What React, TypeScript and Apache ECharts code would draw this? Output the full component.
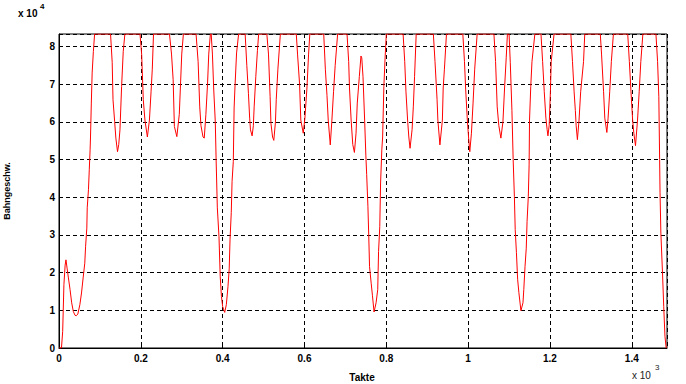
import React, { useEffect, useRef } from "react";
import * as echarts from "echarts";

// x: Takte (cycles), y: Bahngeschw. in units of 10^4
const takte: number[] = [
  0, 6, 9, 12, 15, 17, 20, 23, 27, 31, 35, 39, 42, 46, 51, 55, 59, 63, 65, 68, 69, 72, 74, 76, 77, 79, 81, 84, 87,
  126, 130, 132, 136, 139, 143, 146, 149, 153, 157, 161,
  198, 202, 206, 210, 216, 221, 225, 228, 231,
  270, 275, 279, 282, 288, 294, 297, 300, 304,
  335, 340, 344, 347, 352, 355, 359, 363, 366, 370, 372, 375, 378, 382, 384, 387, 391, 394, 397, 400, 405, 409, 413, 416, 418, 421, 423, 426, 428, 430, 434, 439,
  455, 459, 463, 466, 468, 472, 475, 477, 481, 485, 488,
  508, 512, 516, 518, 522, 525, 529, 531, 535, 541,
  580, 583, 588, 591, 597, 601, 606, 610, 613,
  647, 651, 655, 658, 663, 667, 671, 675, 681,
  704, 708, 710, 714, 718, 722, 726, 729, 734, 738, 740, 743, 747, 750, 752, 755, 757, 759, 763, 766, 770, 775, 779, 781, 784, 786, 789, 791, 794, 797, 800,
  841, 845, 848, 852, 855, 858, 863, 866, 869, 873,
  915, 919, 924, 926, 931, 937, 939, 942, 947,
  987, 991, 994, 998, 1001, 1004, 1008, 1012, 1016, 1022,
  1063, 1067, 1071, 1075, 1080, 1085, 1089, 1093, 1096, 1100, 1103, 1107, 1110, 1113, 1115, 1118, 1121, 1124, 1129, 1134, 1136, 1139, 1142, 1144, 1147, 1149, 1150, 1153, 1156, 1163,
  1178, 1182, 1186, 1190, 1193, 1195, 1198, 1201, 1203, 1210,
  1251, 1255, 1259, 1262, 1264, 1267, 1271, 1275, 1282, 1285,
  1323, 1326, 1331, 1334, 1339, 1342, 1346, 1350, 1355,
  1390, 1394, 1398, 1402, 1405, 1409, 1414, 1418, 1422, 1427,
  1459, 1463, 1466, 1468, 1469, 1471, 1475, 1478, 1481, 1484,
];

const speed: number[] = [
  0, 0, 0.44, 1.68, 2.2, 2.34, 2.1, 1.86, 1.55, 1.2, 0.97, 0.87, 0.855, 0.9, 1.15, 1.46, 1.86, 2.25, 2.7, 3.18, 3.72, 4.2, 4.73, 5.26, 5.6, 6.5, 7.3, 7.87, 8.3333,
  8.3333, 7.58, 6.59, 6.01, 5.57, 5.21, 5.4, 5.79, 6.94, 7.87, 8.3333,
  8.3333, 7.8, 6.59, 6.05, 5.6, 6.05, 6.8, 7.4, 8.3333,
  8.3333, 7.8, 7.12, 5.88, 5.61, 6.2, 7.0, 7.8, 8.3333,
  8.3333, 7.6, 6.4, 5.9, 5.6, 5.57, 6.2, 7.0, 7.8, 8.3333, 8.3333, 7.8, 6.9, 6.0, 5.0, 3.72, 2.96, 1.9, 1.37, 1.1, 0.945, 1.15, 1.63, 2.1, 2.87, 3.59, 4.42, 4.95, 6.37, 6.9, 7.83, 8.3333,
  8.3333, 7.5, 6.76, 6.1, 5.79, 5.63, 5.9, 6.4, 7.2, 7.9, 8.3333,
  8.3333, 7.8, 6.67, 5.96, 5.6, 5.51, 6.0, 6.6, 7.4, 8.3333,
  8.3333, 7.8, 7.0, 6.05, 5.7, 6.1, 6.9, 7.8, 8.3333,
  8.3333, 7.4, 6.7, 6.05, 5.39, 6.05, 6.8, 7.5, 8.3333,
  8.3333, 7.6, 6.9, 6.05, 5.4, 5.19, 5.7, 6.5, 7.2, 7.75, 7.7, 7.2, 6.05, 5.1, 4.6, 3.76, 3.0, 2.16, 1.72, 1.4, 0.955, 1.2, 1.55, 2.56, 3.22, 4.38, 5.26, 5.6, 6.94, 7.7, 8.3333,
  8.3333, 7.6, 6.8, 6.05, 5.6, 5.3, 5.8, 6.4, 7.2, 8.3333,
  8.3333, 7.6, 6.6, 6.05, 5.39, 6.05, 6.9, 7.4, 8.3333,
  8.3333, 7.6, 6.85, 6.05, 5.6, 5.21, 5.7, 6.5, 7.4, 8.3333,
  8.3333, 7.6, 6.4, 5.9, 5.57, 6.0, 6.9, 7.7, 8.3333, 8.3333, 7.57, 6.3, 5.0, 4.02, 3.14, 2.53, 1.81, 1.47, 0.99, 1.2, 1.55, 2.16, 2.65, 3.36, 4.02, 4.86, 6.05, 6.94, 7.6, 8.3333,
  8.3333, 7.6, 6.8, 6.1, 5.8, 5.63, 5.9, 6.8, 7.6, 8.3333,
  8.3333, 7.6, 6.8, 6.3, 5.9, 5.53, 6.05, 6.8, 7.6, 8.3333,
  8.3333, 7.8, 6.8, 6.1, 5.72, 6.1, 6.8, 7.6, 8.3333,
  8.3333, 7.6, 6.8, 6.05, 5.7, 5.37, 6.05, 6.8, 7.6, 8.3333,
  8.3333, 7.6, 6.67, 5.0, 4.12, 3.05, 2.0, 1.1, 0.31, 0,
];

const xMax = 1486;
const yMax = 8.3333;
const xLabel = "Takte";
const yLabel = "Bahngeschw.";

export default function App() {
  const ref = useRef<HTMLDivElement>(null);
  useEffect(() => {
    if (!ref.current) return;
    const chart = echarts.init(ref.current, null, { renderer: "svg" });
    const data = takte.map((t, i) => [t, speed[i]]);
    const font = "Liberation Sans, Arial, Helvetica, sans-serif";
    chart.setOption({
      animation: false,
      backgroundColor: "#ffffff",
      grid: {
        left: 59,
        right: 19,
        top: 34,
        bottom: 36,
        show: true,
        borderColor: "#000",
        borderWidth: 1,
        backgroundColor: "transparent",
      },
      xAxis: {
        type: "value",
        min: 0,
        max: xMax,
        interval: 200,
        axisLine: { show: true, lineStyle: { color: "#000", width: 1 } },
        axisTick: { show: true, inside: true, length: 4, lineStyle: { color: "#000" } },
        axisLabel: {
          showMaxLabel: false,
          margin: 5,
          color: "#000",
          fontFamily: font,
          fontWeight: "bold",
          fontSize: 10,
          formatter: (v: number) => String(v / 1000),
        },
        splitLine: { show: true, lineStyle: { color: "#000", type: [4, 3], width: 1 } },
      },
      yAxis: {
        type: "value",
        min: 0,
        max: yMax,
        interval: 1,
        axisLine: { show: true, lineStyle: { color: "#000", width: 1 } },
        axisTick: { show: true, inside: true, length: 4, lineStyle: { color: "#000" } },
        axisLabel: {
          showMaxLabel: false,
          margin: 4,
          color: "#000",
          fontFamily: font,
          fontWeight: "bold",
          fontSize: 10,
          formatter: (v: number) => String(Math.round(v)),
        },
        splitLine: { show: true, lineStyle: { color: "#000", type: [4, 3], width: 1 } },
      },
      series: [
        {
          type: "line",
          data,
          showSymbol: false,
          symbol: "none",
          lineStyle: { color: "#ff0000", width: 1 },
          clip: true,
        },
      ],
      graphic: [
        {
          type: "text",
          x: 7,
          y: 191,
          rotation: Math.PI / 2,
          style: {
            text: yLabel,
            fill: "#000",
            font: `bold 9px ${font}`,
            textAlign: "center",
            textVerticalAlign: "middle",
          },
        },
        {
          type: "text",
          x: 362,
          y: 377,
          style: {
            text: xLabel,
            fill: "#000",
            font: `bold 10px ${font}`,
            textAlign: "center",
            textVerticalAlign: "middle",
          },
        },
        {
          type: "text",
          x: 18,
          y: 13,
          style: {
            text: "x 10",
            fill: "#000",
            font: `bold 10px ${font}`,
            textAlign: "left",
            textVerticalAlign: "middle",
          },
        },
        {
          type: "text",
          x: 40,
          y: 6,
          style: {
            text: "4",
            fill: "#000",
            font: `bold 8px ${font}`,
            textAlign: "left",
            textVerticalAlign: "middle",
          },
        },
        {
          type: "text",
          x: 632,
          y: 375,
          style: {
            text: "x 10",
            fill: "#222",
            font: `10px ${font}`,
            textAlign: "left",
            textVerticalAlign: "middle",
          },
        },
        {
          type: "text",
          x: 655,
          y: 367,
          style: {
            text: "3",
            fill: "#222",
            font: `8px ${font}`,
            textAlign: "left",
            textVerticalAlign: "middle",
          },
        },
      ],
    });
    return () => chart.dispose();
  }, []);
  return (
    <div
      ref={ref}
      style={{ position: "absolute", left: 0, top: 0, width: 686, height: 384 }}
    />
  );
}
